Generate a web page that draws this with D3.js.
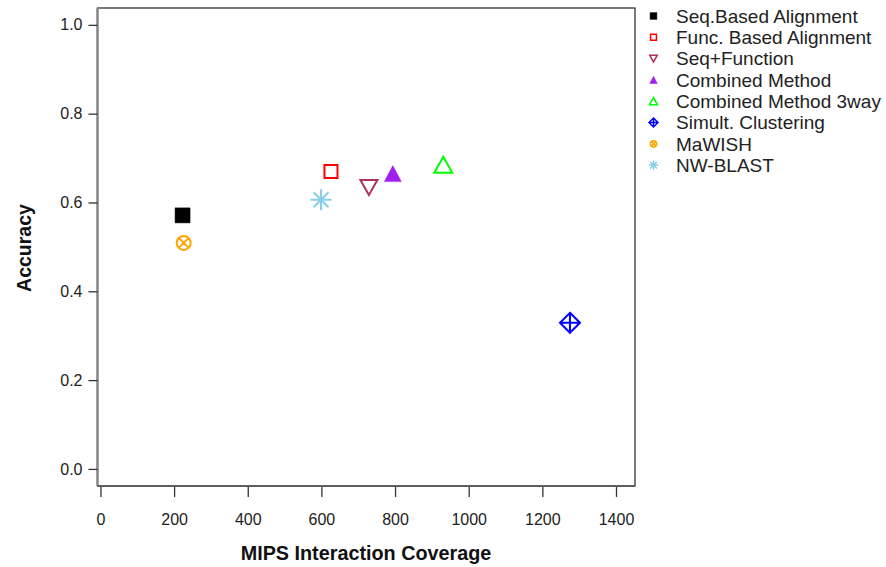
<!DOCTYPE html>
<html><head><meta charset="utf-8">
<script src="https://cdn.jsdelivr.net/npm/d3@7/dist/d3.min.js"></script>
<style>body{margin:0;background:#fff;} svg{display:block;font-family:"Liberation Sans",Arial,sans-serif;}</style>
</head><body>
<svg id="c" width="886" height="567"></svg>
<script>
const methods = ["Seq.Based Alignment","Func. Based Alignment","Seq+Function","Combined Method","Combined Method 3way","Simult. Clustering","MaWISH","NW-BLAST"];
const coverage = [223, 626, 729, 794, 931, 1275, 226, 599];
const accuracy = [0.571, 0.670, 0.634, 0.665, 0.685, 0.329, 0.509, 0.606];
const colors = ["#000000","#FF0000","#B03060","#A020F0","#00FF00","#0000FF","#FFA500","#87CEEB"];
const shapes = ["filledSquare","openSquare","openTriDown","filledTriUp","openTriUp","diamondPlus","circleX","asterisk"];
const xTicks = [0,200,400,600,800,1000,1200,1400];
const yTicks = [0.0,0.2,0.4,0.6,0.8,1.0];

const svg = d3.select("#c");
const L=97.5, R=635, T=8, B=486;
const x = d3.scaleLinear().domain([-8,1451.6]).range([L,R]);
const y = d3.scaleLinear().domain([-0.0385,1.038]).range([B,T]);

function shapePath(s, k){
  const f = v => (v*k).toFixed(2);
  switch(s){
    case "filledSquare": return `M${f(-7.5)},${f(-7.5)}H${f(7.5)}V${f(7.5)}H${f(-7.5)}Z`;
    case "openSquare": return `M${f(-6.5)},${f(-6.5)}H${f(6.5)}V${f(6.5)}H${f(-6.5)}Z`;
    case "openTriDown": return `M${f(-8.5)},${f(-7.5)}H${f(8.5)}L0,${f(7.5)}Z`;
    case "filledTriUp": return `M${f(-8.5)},${f(8)}H${f(8.5)}L0,${f(-8)}Z`;
    case "openTriUp": return `M${f(-9)},${f(8)}H${f(9)}L0,${f(-8)}Z`;
    case "diamondPlus": return `M0,${f(-10)}L${f(10)},0L0,${f(10)}L${f(-10)},0Z M0,${f(-10)}V${f(10)} M${f(-10)},0H${f(10)}`;
    case "circleX": { const r=7, d=5; return `M${f(r)},0A${f(r)},${f(r)} 0 1,1 ${f(-r)},0A${f(r)},${f(r)} 0 1,1 ${f(r)},0Z M${f(-d)},${f(-d)}L${f(d)},${f(d)} M${f(-d)},${f(d)}L${f(d)},${f(-d)}`; }
    case "asterisk": { const d=7.5, a=10.5; return `M0,${f(-a)}V${f(a)} M${f(-d)},${f(-d)}L${f(d)},${f(d)} M${f(-d)},${f(d)}L${f(d)},${f(-d)} M${f(-a)},0H${f(a)}`; }
  }
}
function drawSym(g, s, col, k, sw){
  const filled = s.startsWith("filled");
  g.append("path").attr("d", shapePath(s,k))
    .attr("fill", filled?col:"none")
    .attr("stroke", col).attr("stroke-width", filled?0.5:sw)
    .attr("stroke-linejoin","miter");
}

// box
svg.append("rect").attr("x",L).attr("y",T).attr("width",R-L).attr("height",B-T)
  .attr("fill","none").attr("stroke","#222").attr("stroke-width",1.2);
svg.append("line").attr("x1",L).attr("x2",L).attr("y1",T).attr("y2",B).attr("stroke","#888").attr("stroke-width",2.5);
svg.append("line").attr("x1",L).attr("x2",R).attr("y1",B).attr("y2",B).attr("stroke","#555").attr("stroke-width",1.5);

// y axis
const ya = svg.append("g").attr("transform",`translate(${L},0)`)
  .call(d3.axisLeft(y).tickValues(yTicks).tickFormat(d3.format(".1f")).tickSize(9).tickPadding(6));
ya.select(".domain").remove();
ya.selectAll("line").attr("stroke","#333").attr("stroke-width",1.3);
ya.selectAll("text").attr("font-size",16).attr("fill","#222").attr("font-family","Liberation Sans, Arial, sans-serif");

// x axis
const xa = svg.append("g").attr("transform",`translate(0,${B+1})`)
  .call(d3.axisBottom(x).tickValues(xTicks).tickFormat(d3.format("d")).tickSize(10).tickPadding(17));
xa.select(".domain").remove();
xa.selectAll("line").attr("stroke","#333").attr("stroke-width",1.3);
xa.selectAll("text").attr("font-size",16).attr("fill","#222").attr("font-family","Liberation Sans, Arial, sans-serif");

// axis titles
svg.append("text").attr("x",366).attr("y",560).attr("text-anchor","middle")
  .attr("font-size",19.8).attr("font-weight","bold").attr("fill","#111").text("MIPS Interaction Coverage");
svg.append("text").attr("transform","translate(31,248) rotate(-90)").attr("text-anchor","middle")
  .attr("font-size",19.5).attr("font-weight","bold").attr("fill","#111").text("Accuracy");

// points
methods.forEach((m,i)=>{
  const g = svg.append("g").attr("transform",`translate(${x(coverage[i])},${y(accuracy[i])})`);
  drawSym(g, shapes[i], colors[i], 1, 2);
});

// legend
methods.forEach((m,i)=>{
  const ly = 16 + i*21.3;
  const g = svg.append("g").attr("transform",`translate(653.5,${ly})`);
  drawSym(g, shapes[i], colors[i], 0.45, 1.5);
  svg.append("text").attr("x",676).attr("y",ly).attr("dy","0.36em")
    .attr("font-size",19).attr("fill","#222").text(m);
});
</script>
</body></html>
